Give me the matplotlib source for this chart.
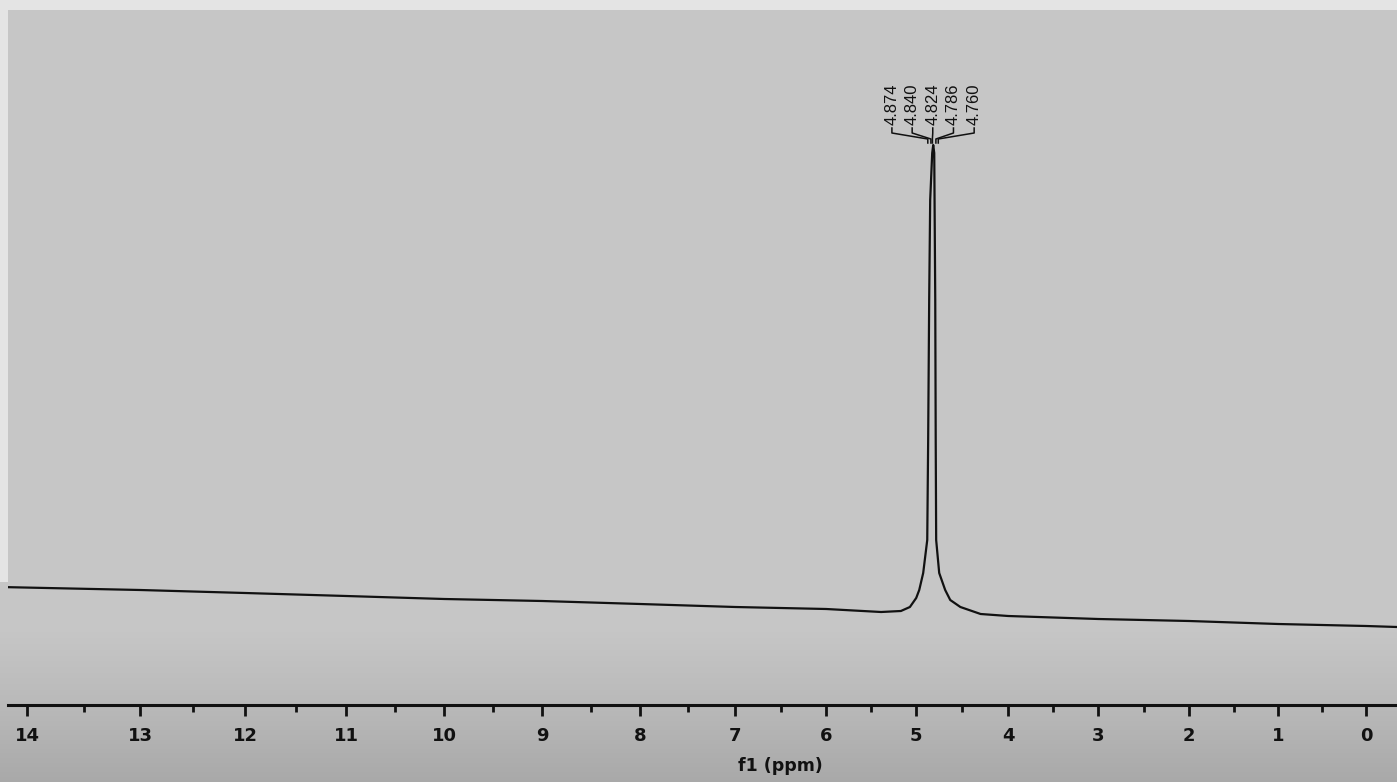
import numpy as np
import matplotlib
matplotlib.use("Agg")
import matplotlib.pyplot as plt
from matplotlib.patches import Rectangle
from matplotlib.colors import LinearSegmentedColormap

# spectrum: chemical shift (ppm) and height above the axis
ppm = [14.24, 13.0, 12.0, 11.0, 10.0, 9.0, 8.0, 7.0, 6.0, 5.39, 5.17, 5.07, 5.0,
       4.967, 4.924, 4.88, 4.87, 4.859, 4.848, 4.826, 4.815, 4.804, 4.793, 4.788, 4.783,
       4.75, 4.685, 4.63, 4.52, 4.30, 4.0, 3.0, 2.0, 1.0, 0.0, -0.35]
intensity = [118, 115, 112, 109, 106, 104, 101, 98, 96, 93, 94, 98, 107,
             115, 132, 165, 265, 405, 505, 552, 560, 552, 405, 265, 165,
             132, 115, 105, 98, 91, 89, 86, 84, 81, 79, 78]

peak_labels = ["4.874", "4.840", "4.824", "4.786", "4.760"]
peak_ppm = [4.874, 4.840, 4.824, 4.786, 4.760]

# axis calibration (tick value -> pixel in the photo, which is slightly in perspective)
tick_ppm = [-1, 0, 1, 2, 3, 4, 5, 6, 7, 8, 9, 10, 11, 12, 13, 14, 15]
tick_px = [1454, 1366, 1278, 1189, 1098, 1008, 916, 826, 735, 640, 542, 444, 346, 245, 140, 27, -86]
px_asc = tick_px[::-1]
ppm_asc = tick_ppm[::-1]


def fwd(v):
    return -np.interp(v, tick_ppm, tick_px)


def inv(p):
    return np.interp(-np.asarray(p), px_asc, ppm_asc)


bg = "#c6c6c6"
fig = plt.figure(figsize=(13.97, 7.82), dpi=100, facecolor=bg)

# paper background: sheet with darker shading towards the bottom edge
bgax = fig.add_axes([0, 0, 1, 1], zorder=-1)
paper = LinearSegmentedColormap.from_list("paper", [bg, "#b9b9b9", "#a9a9a9"])
shade = np.linspace(0, 1, 200)[:, None]
bgax.imshow(shade, extent=[0, 1, 0, 150 / 782], aspect="auto", cmap=paper,
            origin="upper", zorder=0)
bgax.add_patch(Rectangle((0, 1 - 10 / 782), 1, 10 / 782, color="#e4e4e4", lw=0, zorder=2))
bgax.add_patch(Rectangle((0, 200 / 782), 8 / 1397, 1, color="#e4e4e4", lw=0, zorder=2))
bgax.set_xlim(0, 1)
bgax.set_ylim(0, 1)
bgax.axis("off")

ax = fig.add_axes([8 / 1397, 77 / 782, 1 - 8 / 1397, 705 / 782])
ax.patch.set_alpha(0)
ax.set_xscale("function", functions=(fwd, inv))
ax.set_xlim(14.17, -0.35)
ax.set_ylim(0, 705)

ax.plot(ppm, intensity, color="#111111", lw=1.6)

# peak labels with connector lines
centre = 4.82
for i, (lab, p) in enumerate(zip(peak_labels, peak_ppm)):
    xl = centre + (2 - i) * 0.225
    ax.plot([xl, xl, p, p], [577, 572, 566, 562], color="#111111", lw=1.1)
    ax.text(xl, 580, lab, rotation=90, ha="center", va="bottom",
            fontsize=12, family="Liberation Sans", color="#111111")

for s in ["top", "left", "right"]:
    ax.spines[s].set_visible(False)
ax.spines["bottom"].set_linewidth(2.2)
ax.spines["bottom"].set_color("#111111")
ax.set_yticks([])
ax.set_xticks(range(0, 15))
ax.set_xticks(np.arange(0.5, 14, 1.0), minor=True)
ax.tick_params(axis="x", which="major", direction="out", length=8, width=2,
               pad=8, labelsize=13, colors="#111111")
ax.tick_params(axis="x", which="minor", direction="out", length=5, width=2,
               colors="#111111")
for t in ax.get_xticklabels():
    t.set_fontweight("bold")
ax.set_xlabel("f1 (ppm)", fontsize=12.5, fontweight="bold", color="#111111",
              labelpad=0)
ax.xaxis.set_label_coords((780 - 8) / (1397 - 8), -52 / 705)

fig.savefig("out.png", dpi=100, facecolor=bg)
